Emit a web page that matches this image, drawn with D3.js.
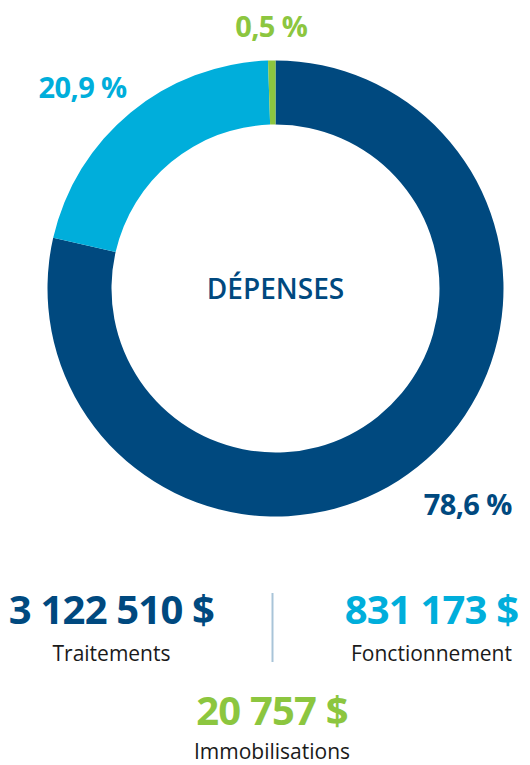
<!DOCTYPE html>
<html>
<head>
<meta charset="utf-8">
<script src="https://cdn.jsdelivr.net/npm/d3@7"></script>
<style>
  html, body { margin: 0; padding: 0; background: #fff; }
  svg { display: block; font-family: "Open Sans", "Noto Sans", sans-serif; }
</style>
</head>
<body>
<svg id="svg" width="530" height="765"></svg>
<script>
"use strict";

// data
const categories = ["Traitements", "Fonctionnement", "Immobilisations"];
const amounts = [3122510, 831173, 20757];
const colors = ["#00497f", "#00aedb", "#8cc63f"];
const centerTitle = "DÉPENSES";

// layout
const cx = 275.5, cy = 288.5;
const outerR = 228, innerR = 164;
const labelR = [289, 278, 262];
const labelNudge = [[12, -10], [-16, 13], [0, 0]];
const amountPos = [[111.5, 624], [431.5, 624], [272, 725]];
const captionGap = [37, 37, 34];

var fr = d3.formatLocale({
    decimal: ",",
    thousands: "\u00a0",
    grouping: [3],
    currency: ["", "\u00a0$"]
});
var fmtAmount = fr.format("$,d");
var fmtPct = fr.format(".1f");

var total = d3.sum(amounts);
var data = amounts.map((v, i) => ({ name: categories[i], value: v, i: i }));

var svg = d3.select("svg");

var pie = d3.pie()
    .sort(null)
    .value(d => d.value);

var arc = d3.arc()
    .innerRadius(innerR)
    .outerRadius(outerR);

var arcs = pie(data);

var g = svg.append("g")
    .attr("transform", "translate(" + cx + "," + cy + ")");

g.selectAll(".slice")
    .data(arcs)
    .enter()
    .append("path")
        .attr("class", "slice")
        .attr("d", arc)
        .attr("fill", d => colors[d.data.i]);

g.selectAll(".pct")
    .data(arcs)
    .enter()
    .append("text")
        .attr("class", "pct")
        .attr("transform", function(d) {
            var r = labelR[d.data.i];
            var c = d3.arc().innerRadius(r).outerRadius(r).centroid(d);
            var n = labelNudge[d.data.i];
            return "translate(" + (c[0] + n[0]) + "," + (c[1] + n[1]) + ")";
        })
        .attr("dy", "0.36em")
        .attr("text-anchor", "middle")
        .attr("font-size", 29)
        .attr("font-weight", 700)
        .attr("letter-spacing", -0.6)
        .attr("fill", d => colors[d.data.i])
        .text(d => fmtPct(d.data.value / total * 100) + "\u00a0%");

g.append("text")
    .attr("y", 10)
    .attr("text-anchor", "middle")
    .attr("font-size", 28)
    .attr("font-weight", 600)
    .attr("fill", colors[0])
    .text(centerTitle);

// totals under the chart
var totals = svg.append("g");

totals.selectAll(".amount")
    .data(data)
    .enter()
    .append("text")
        .attr("class", "amount")
        .attr("x", d => amountPos[d.i][0])
        .attr("y", d => amountPos[d.i][1])
        .attr("text-anchor", "middle")
        .attr("font-size", 40)
        .attr("font-weight", 700)
        .attr("letter-spacing", -0.8)
        .attr("fill", d => colors[d.i])
        .text(d => fmtAmount(d.value));

totals.selectAll(".caption")
    .data(data)
    .enter()
    .append("text")
        .attr("class", "caption")
        .attr("x", d => amountPos[d.i][0])
        .attr("y", d => amountPos[d.i][1] + captionGap[d.i])
        .attr("text-anchor", "middle")
        .attr("font-size", 21)
        .attr("fill", "#1a1a1a")
        .text(d => d.name);

totals.append("line")
    .attr("x1", 272.5)
    .attr("x2", 272.5)
    .attr("y1", 593)
    .attr("y2", 662)
    .attr("stroke", "#a9c4d8")
    .attr("stroke-width", 2);
</script>
</body>
</html>
